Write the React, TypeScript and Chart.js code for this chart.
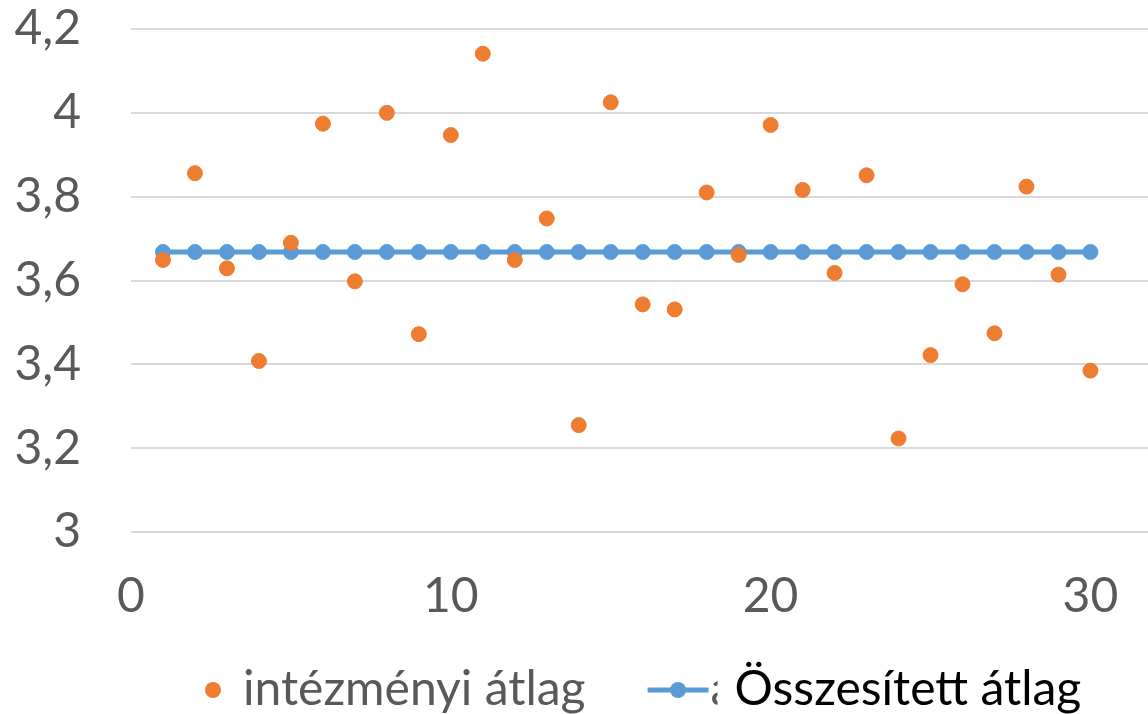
import React, { useEffect, useRef } from "react";
import { Chart, registerables } from "chart.js";

Chart.register(...registerables);

const xValues = [1, 2, 3, 4, 5, 6, 7, 8, 9, 10, 11, 12, 13, 14, 15, 16, 17, 18, 19, 20, 21, 22, 23, 24, 25, 26, 27, 28, 29, 30];
const intezmenyiAtlag = [
  3.649, 3.856, 3.629, 3.408, 3.69, 3.974, 3.598, 4.0, 3.472, 3.947,
  4.141, 3.649, 3.748, 3.255, 4.025, 3.543, 3.531, 3.81, 3.661, 3.971,
  3.816, 3.618, 3.851, 3.223, 3.422, 3.591, 3.474, 3.824, 3.614, 3.385,
];
const osszesitettAtlag = [
  3.668, 3.668, 3.668, 3.668, 3.668, 3.668, 3.668, 3.668, 3.668, 3.668,
  3.668, 3.668, 3.668, 3.668, 3.668, 3.668, 3.668, 3.668, 3.668, 3.668,
  3.668, 3.668, 3.668, 3.668, 3.668, 3.668, 3.668, 3.668, 3.668, 3.668,
];
const xTickValues = [0, 10, 20, 30];
const seriesLabels = ["intézményi átlag", "átlag"];
const overlayLabel = "Összesített átlag";

const ORANGE = "#ED7D31";
const BLUE = "#5B9BD5";
const TEXT = "#595959";
const GRID = "#D9D9D9";
const FONT_FAMILY = "Lato, 'DejaVu Sans', sans-serif";
const FONT_SIZE = 48;

const legendPlugin = {
  id: "excelLegend",
  afterDraw(chart: any) {
    const ctx = chart.ctx as CanvasRenderingContext2D;
    const cy = 690;
    ctx.save();
    ctx.font = `${FONT_SIZE}px ${FONT_FAMILY}`;
    ctx.textBaseline = "middle";
    ctx.textAlign = "left";
    // item 1: orange dot
    const dotX = 213;
    ctx.fillStyle = ORANGE;
    ctx.beginPath();
    ctx.arc(dotX, cy, 8, 0, Math.PI * 2);
    ctx.fill();
    const t1 = dotX + 30;
    ctx.fillStyle = TEXT;
    ctx.fillText(seriesLabels[0], t1, cy);
    const w1 = ctx.measureText(seriesLabels[0]).width;
    // item 2: blue line with marker
    const lx = t1 + w1 + 62;
    ctx.strokeStyle = BLUE;
    ctx.lineWidth = 5;
    ctx.beginPath();
    ctx.moveTo(lx, cy);
    ctx.lineTo(lx + 61, cy);
    ctx.stroke();
    ctx.fillStyle = BLUE;
    ctx.beginPath();
    ctx.arc(lx + 30.5, cy, 8, 0, Math.PI * 2);
    ctx.fill();
    ctx.fillStyle = TEXT;
    ctx.fillText(seriesLabels[1], lx + 63, cy);
    // overlapping text box
    const boxX = lx + 70;
    const w2 = ctx.measureText(overlayLabel).width;
    ctx.fillStyle = "#FFFFFF";
    ctx.fillRect(boxX, cy - 34, w2 + 40, 68);
    ctx.fillStyle = "#000000";
    ctx.fillText(overlayLabel, boxX + 17, cy);
    ctx.restore();
  },
};

export default function App() {
  const canvasRef = useRef<HTMLCanvasElement | null>(null);

  useEffect(() => {
    document.body.style.margin = "0";
    document.body.style.overflow = "hidden";
    const canvas = canvasRef.current;
    if (!canvas) return;
    const chart = new Chart(canvas, {
      type: "scatter",
      data: {
        datasets: [
          {
            label: seriesLabels[0],
            data: xValues.map((x, i) => ({ x, y: intezmenyiAtlag[i] })),
            backgroundColor: ORANGE,
            borderColor: ORANGE,
            pointRadius: 7.5,
            pointBorderWidth: 1,
            showLine: false,
            order: 0,
          },
          {
            type: "line",
            label: seriesLabels[1],
            data: xValues.map((x, i) => ({ x, y: osszesitettAtlag[i] })),
            backgroundColor: BLUE,
            borderColor: BLUE,
            borderWidth: 5,
            pointRadius: 7.5,
            pointBorderWidth: 1,
            showLine: true,
            fill: false,
            order: 1,
          } as any,
        ],
      },
      options: {
        responsive: false,
        animation: false,
        layout: { autoPadding: false, padding: { top: 29, bottom: 100, left: 0, right: 0 } },
        plugins: {
          legend: { display: false },
          tooltip: { enabled: false },
        },
        scales: {
          x: {
            type: "linear",
            min: 0,
            max: 31.8,
            afterBuildTicks: (s: any) => {
              s.ticks = xTickValues.map((v) => ({ value: v }));
            },
            afterFit: (s: any) => {
              s.height = 82;
              s.paddingLeft = 0;
              s.paddingRight = 0;
              s.paddingTop = 0;
              s.paddingBottom = 0;
            },
            ticks: {
              padding: 36,
              color: TEXT,
              font: { family: FONT_FAMILY, size: FONT_SIZE },
              maxRotation: 0,
            },
            grid: { display: false, drawTicks: false },
            border: { display: false },
          },
          y: {
            type: "linear",
            min: 3,
            max: 4.2,
            afterFit: (s: any) => {
              s.width = 131;
              s.paddingTop = 0;
              s.paddingBottom = 0;
              s.paddingLeft = 0;
              s.paddingRight = 0;
            },
            ticks: {
              stepSize: 0.2,
              padding: 50,
              color: TEXT,
              font: { family: FONT_FAMILY, size: FONT_SIZE },
              callback: (v: any) => String(Number(Number(v).toFixed(1))).replace(".", ","),
            },
            grid: { color: GRID, lineWidth: 2, drawTicks: false },
            border: { display: false },
          },
        },
      },
      plugins: [legendPlugin],
    });
    return () => chart.destroy();
  }, []);

  return (
    <div style={{ position: "absolute", left: 0, top: 0, width: 1148, height: 714, background: "#fff" }}>
      <canvas ref={canvasRef} width={1148} height={714} style={{ display: "block" }} />
    </div>
  );
}
